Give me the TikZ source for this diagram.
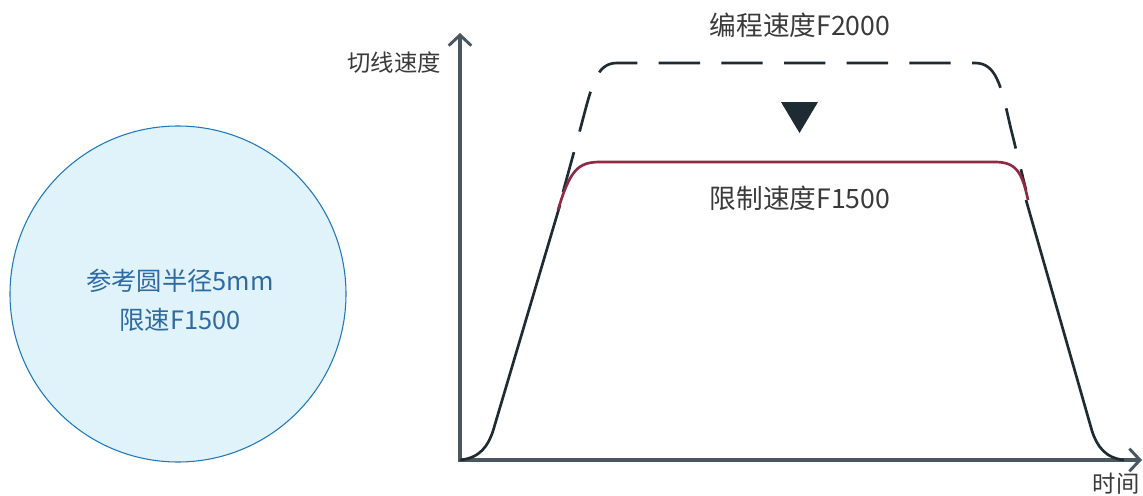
\documentclass[tikz,border=0pt]{standalone}
\usepackage{fontspec}
\setmainfont{Noto Sans CJK SC}
\usetikzlibrary{arrows.meta}
\definecolor{axisc}{HTML}{4A5660}
\definecolor{curvec}{HTML}{1F2B33}
\definecolor{redc}{HTML}{8E2A44}
\definecolor{circfill}{HTML}{E0F2FA}
\definecolor{circdraw}{HTML}{1E78C0}
\definecolor{circtext}{HTML}{2E6BA3}
\definecolor{labelc}{HTML}{3A3A3A}
\tikzset{
  axis/.style={draw=axisc, line width=3pt, -{Straight Barb[length=8pt,width=17pt,line width=2.2pt]}},
  curve/.style={draw=curvec, line width=2pt},
  limit/.style={draw=redc, line width=2pt},
  prog/.style={draw=curvec, line width=2pt, dash pattern=on 31pt off 16pt},
  lbl/.style={text=labelc, font=\fontsize{20}{24}\selectfont, inner sep=0pt},
  axlbl/.style={text=labelc, font=\fontsize{17.5}{20}\selectfont, inner sep=0pt},
}
\begin{document}
\begin{tikzpicture}[x=0.75pt,y=-0.75pt]
\useasboundingbox (0,0) rectangle (1143,496);
% reference circle
\node[circle, draw=circdraw, fill=circfill, line width=0.8pt, minimum size=252pt, inner sep=0pt] (circ) at (178,294) {};
\node[text=circtext, font=\fontsize{19}{29}\selectfont, align=center, inner sep=0pt] (ctext) at (180,300) {参考圆半径5mm\\限速F1500};
% axes
\coordinate (O) at (460,460);
\coordinate (ytop) at (460,33);
\coordinate (xend) at (1142,460);
\draw[axis] (460,462) -- (ytop);
\draw[axis] (458,460) -- (xend);
\node[axlbl] (ylab) at (394,63) {切线速度};
\node[axlbl] (xlab) at (1116,484) {时间};
% programmed speed (dashed)
\draw[prog] (563,192) -- (580,130) .. controls (592,85) and (596,63) .. (617,63)
  -- (975,63) .. controls (996,63) and (1001,85) .. (1010,125) -- (1026,190);
% actual curve
\draw[curve] (O) .. controls (480,458) and (488,446) .. (493,431) -- (560,205);
\draw[curve] (1026,200) -- (1092,431) .. controls (1097,446) and (1105,458) .. (1124,460);
\draw[limit] (558,210) .. controls (570,170) and (578,162) .. (600,162)
  -- (995,162) .. controls (1016,162) and (1022,172) .. (1028,200);
% arrow triangle
\fill[curvec] (781,102) -- (818,102) -- (799.5,133) -- cycle;
% labels
\node[lbl] (ptext) at (800,25) {编程速度F2000};
\node[lbl] (ltext) at (800,198) {限制速度F1500};
\end{tikzpicture}
\end{document}
